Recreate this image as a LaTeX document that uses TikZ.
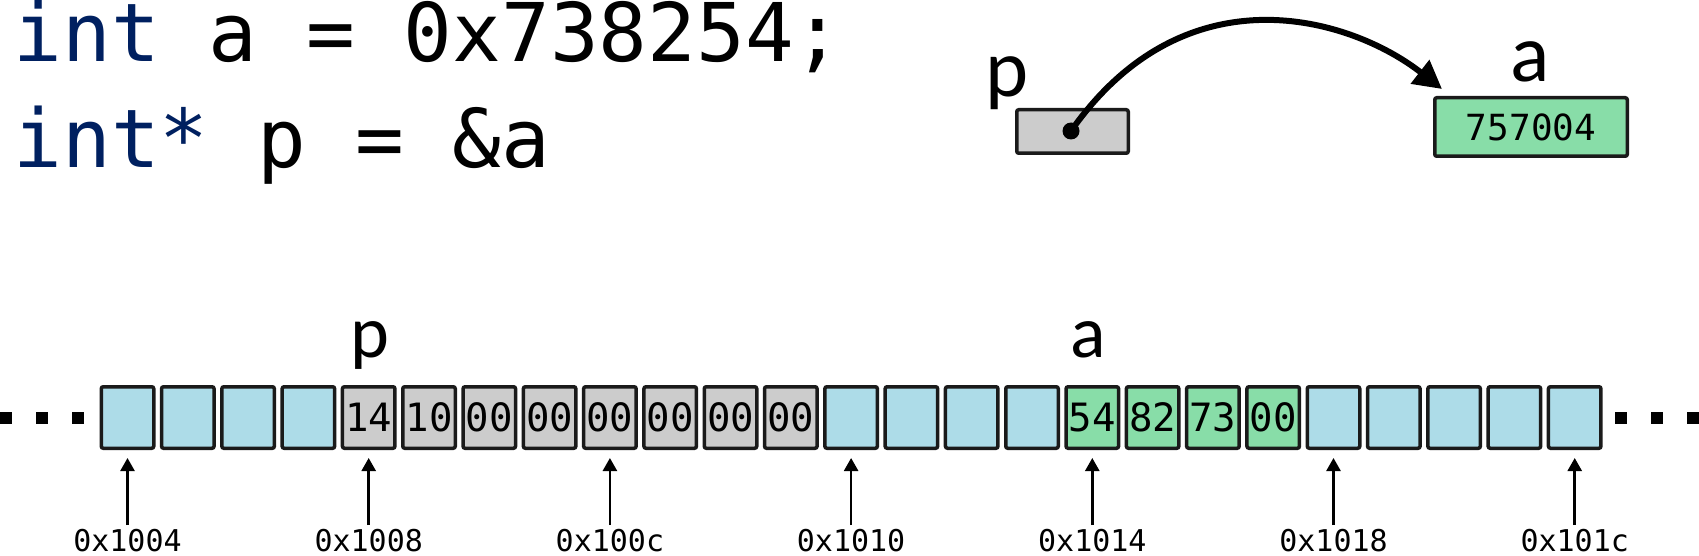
\documentclass[tikz,border=0pt]{standalone}
\usepackage{fontspec}
\usetikzlibrary{arrows.meta}
\newfontfamily\monof{DejaVu Sans Mono}
\newfontfamily\labf{Carlito}
\definecolor{navy}{HTML}{002060}
\definecolor{cellblue}{HTML}{ADDCE8}
\definecolor{cellgray}{HTML}{CCCCCC}
\definecolor{cellgreen}{HTML}{88DDA8}
\definecolor{edge}{HTML}{1A1A1A}
\begin{document}
\begin{tikzpicture}[x=1pt,y=-1pt,
  cell/.style={draw=edge, line width=3.5pt, rounded corners=2pt, minimum width=52.5pt,
    minimum height=61.5pt, inner sep=0pt, font=\monof\fontsize{39}{44}\selectfont},
  addr/.style={anchor=base, inner sep=0pt, font=\monof\fontsize{30}{34}\selectfont},
  addrarrow/.style={line width=2.5pt, -{Triangle[length=13pt,width=14pt]}, shorten >=8pt},
  code/.style={anchor=base west, inner sep=0pt, font=\monof\fontsize{81}{90}\selectfont},
  biglab/.style={anchor=base, inner sep=0pt, font=\labf\fontsize{82}{90}\selectfont},
  smalllab/.style={anchor=base, inner sep=0pt, font=\labf\fontsize{74}{80}\selectfont},
  dotsq/.style={fill=black}
]
\useasboundingbox (0,0) rectangle (1699,556);

% code
\node[code] (line1) at (13.5,62) {\textcolor{navy}{int} a = 0x738254;};
\node[code] (line2) at (13.5,168) {\textcolor{navy}{int*} p = \&a};

% top right diagram
\node[draw=edge, line width=3.5pt, rounded corners=2pt, fill=cellgray,
  minimum width=111.5pt, minimum height=43.5pt, inner sep=0pt] (pbox) at (1072.5,131.5) {};
\node[draw=edge, line width=3.5pt, rounded corners=2pt, fill=cellgreen,
  minimum width=192.5pt, minimum height=58.5pt, inner sep=0pt,
  font=\monof\fontsize{36}{40}\selectfont] (abox) at (1531,127) {757004};
\node[biglab] (plab) at (1007,97) {p};
\node[biglab] (alab) at (1530,82) {a};
\node[circle, fill=black, inner sep=0pt, minimum size=17pt] (pdot) at (1071,131) {};
\coordinate (atip) at (1442,89);
\draw[line width=6pt, -{Triangle[length=28pt,width=29pt]}]
  (pdot.center) .. controls (1185.5,-32.3) and (1350.6,17.5) .. (atip);

% memory cells
\foreach \k/\c/\v in {0/cellblue/,1/cellblue/,2/cellblue/,3/cellblue/,
  4/cellgray/14,5/cellgray/10,6/cellgray/00,7/cellgray/00,8/cellgray/00,
  9/cellgray/00,10/cellgray/00,11/cellgray/00,
  12/cellblue/,13/cellblue/,14/cellblue/,15/cellblue/,
  16/cellgreen/54,17/cellgreen/82,18/cellgreen/73,19/cellgreen/00,
  20/cellblue/,21/cellblue/,22/cellblue/,23/cellblue/,24/cellblue/}{
  \node[cell, fill=\c] (b\k) at ({127.5+60.3*\k},417.5) {\v};
}

% labels above memory
\node[smalllab] (pm) at (370,357) {p};
\node[smalllab] (am) at (1088,357) {a};

% address arrows
\foreach \k/\t in {0/0x1004,4/0x1008,8/0x100c,12/0x1010,16/0x1014,20/0x1018,24/0x101c}{
  \node[addr] (l\k) at ({127.5+60.3*\k},551) {\t};
  \coordinate (t\k) at ({127.5+60.3*\k},525);
  \draw[addrarrow] (t\k) -- (b\k.south);
}

% ellipsis squares
\foreach \x in {0,36,72,1615,1651,1687}{
  \fill[dotsq] (\x,412) rectangle ++(12,12);
}
\end{tikzpicture}
\end{document}
